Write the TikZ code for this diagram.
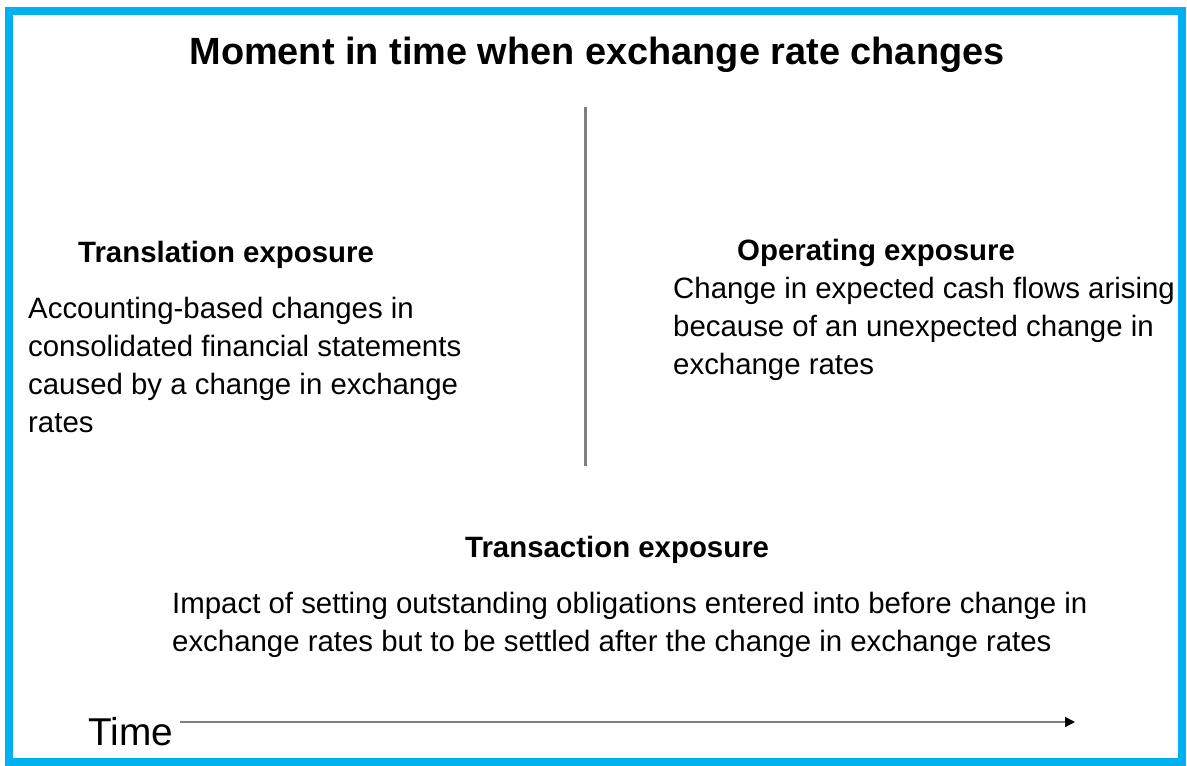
\documentclass[tikz,border=0pt]{standalone}
\usepackage{fontspec}
\setmainfont{Liberation Sans}
\usetikzlibrary{arrows.meta}
\definecolor{frameblue}{HTML}{00B0F0}
\definecolor{linegray}{HTML}{7F7F7F}
\tikzset{
  body/.style={anchor=base west, align=left, inner sep=0pt, font=\fontsize{29.4}{38}\selectfont},
  head/.style={anchor=base west, inner sep=0pt, font=\fontsize{29.4}{34}\selectfont\bfseries},
}
\begin{document}
\begin{tikzpicture}[x=1pt,y=-1pt]
\useasboundingbox (0,0) rectangle (1187,766);
\draw[frameblue, line width=8pt] (9,11) rectangle (1182,762);
\node[anchor=base, inner sep=0pt, font=\fontsize{37.9}{42}\selectfont\bfseries] (title) at (597,64) {Moment in time when exchange rate changes};
\coordinate (vtop) at (585,107);
\coordinate (vbot) at (585,466);
\draw[linegray, line width=3pt] (vtop) -- (vbot);
\node[head] (trh) at (78,262) {Translation exposure};
\node[body] (trb) at (28,432) {Accounting-based changes in\\consolidated financial statements\\caused by a change in exchange\\rates};
\node[head] (oph) at (737,260) {Operating exposure};
\node[body] (opb) at (673,374) {Change in expected cash flows arising\\because of an unexpected change in\\exchange rates};
\node[head] (tah) at (465,557) {Transaction exposure};
\node[body] (tab) at (172,651) {Impact of setting outstanding obligations entered into before change in\\exchange rates but to be settled after the change in exchange rates};
\node[anchor=base west, inner sep=0pt, font=\fontsize{38.8}{42}\selectfont] (time) at (88,745) {Time};
\coordinate (aend) at (1075,722);
\draw[linegray, line width=2pt, -{Triangle[length=10pt,width=10pt,black]}] (180,722) -- (aend);
\end{tikzpicture}
\end{document}
